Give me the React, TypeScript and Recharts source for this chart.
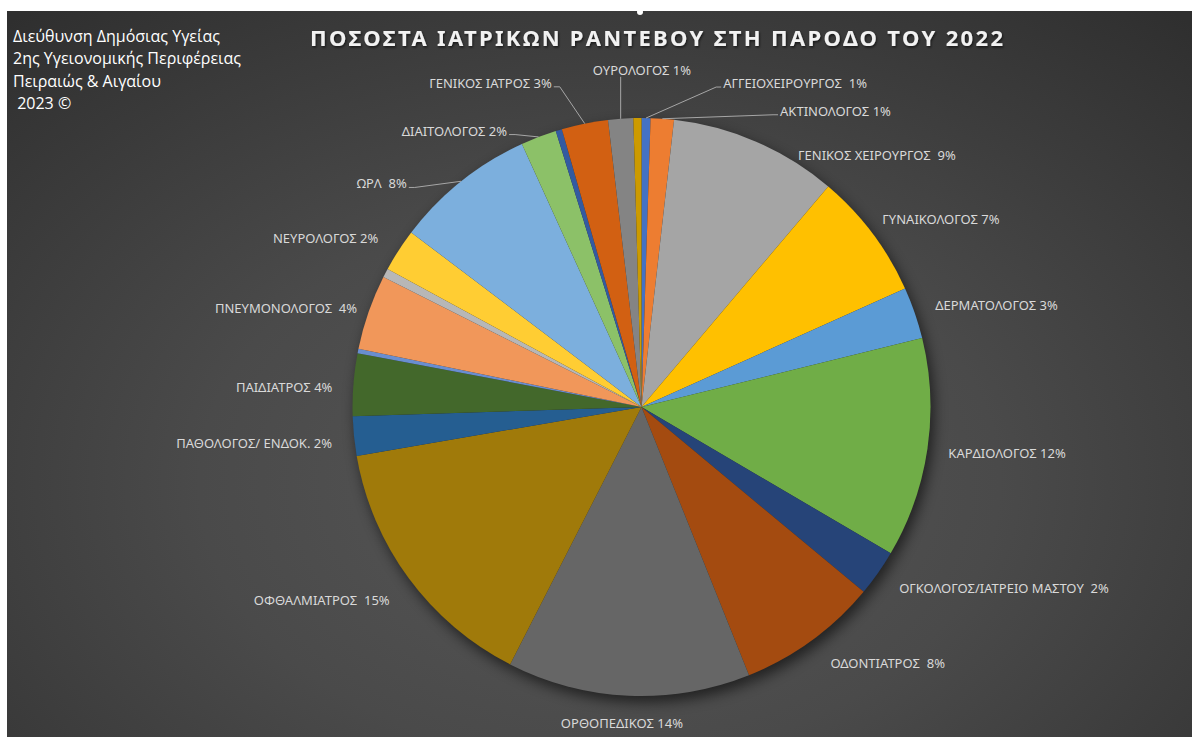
import { PieChart, Pie, Cell } from "recharts";

// specialties, in slice order (clockwise from 12 o'clock); "" = slice without a label
const specialties = [
  "ΑΓΓΕΙΟΧΕΙΡΟΥΡΓΟΣ ",
  "ΑΚΤΙΝΟΛΟΓΟΣ",
  "ΓΕΝΙΚΟΣ ΧΕΙΡΟΥΡΓΟΣ ",
  "ΓΥΝΑΙΚΟΛΟΓΟΣ",
  "ΔΕΡΜΑΤΟΛΟΓΟΣ",
  "ΚΑΡΔΙΟΛΟΓΟΣ",
  "ΟΓΚΟΛΟΓΟΣ/ΙΑΤΡΕΙΟ ΜΑΣΤΟΥ ",
  "ΟΔΟΝΤΙΑΤΡΟΣ ",
  "ΟΡΘΟΠΕΔΙΚΟΣ",
  "ΟΦΘΑΛΜΙΑΤΡΟΣ ",
  "ΠΑΘΟΛΟΓΟΣ/ ΕΝΔΟΚ.",
  "ΠΑΙΔΙΑΤΡΟΣ",
  "",
  "ΠΝΕΥΜΟΝΟΛΟΓΟΣ ",
  "",
  "ΝΕΥΡΟΛΟΓΟΣ",
  "ΩΡΛ ",
  "ΔΙΑΙΤΟΛΟΓΟΣ",
  "",
  "ΓΕΝΙΚΟΣ ΙΑΤΡΟΣ",
  "ΟΥΡΟΛΟΓΟΣ",
  "",
];

// share of appointments (%)
const shares = [
  0.5, 1.3, 9.4, 7.1, 2.9, 12.3, 2.6, 7.9, 13.6, 14.8, 2.2,
  3.5, 0.25, 4.2, 0.5, 2.4, 7.9, 2.0, 0.35, 2.6, 1.4, 0.45,
];

// rounded percentages printed in the labels
const shownPercent = [
  1, 1, 9, 7, 3, 12, 2, 8, 14, 15, 2,
  4, null, 4, null, 2, 8, 2, null, 3, 1, null,
];

const colors = [
  "#4472C4", "#ED7D31", "#A5A5A5", "#FFC000", "#5B9BD5", "#70AD47",
  "#264478", "#A44B10", "#666666", "#A07A0A", "#255E91", "#43682B",
  "#698ED0", "#F1975A", "#B7B7B7", "#FFCD33", "#7CAFDD", "#8CC168",
  "#335AA1", "#D26012", "#848484", "#CC9A00",
];

// manual label placement, offsets from the point just outside each slice
type Lay = { dx: number; dy: number; anchor: "start" | "end" | "middle"; leader?: boolean };
const labelLayout: (Lay | null)[] = [
  { dx: 77, dy: -25, anchor: "start", leader: true },
  { dx: 117, dy: 2, anchor: "start", leader: true },
  { dx: 38, dy: 22, anchor: "start" },
  { dx: 2, dy: -8, anchor: "start" },
  { dx: 11, dy: -5, anchor: "start" },
  { dx: 11, dy: 3, anchor: "start" },
  { dx: 13, dy: 9, anchor: "start" },
  { dx: 13, dy: 14, anchor: "start" },
  { dx: -6, dy: 17, anchor: "middle" },
  { dx: -11, dy: 16, anchor: "end" },
  { dx: -12, dy: 6, anchor: "end" },
  { dx: -11, dy: 3, anchor: "end" },
  null,
  { dx: -2, dy: -1, anchor: "end" },
  null,
  { dx: -12, dy: -7, anchor: "end" },
  { dx: -48, dy: 10, anchor: "end", leader: true },
  { dx: -28, dy: 3, anchor: "end", leader: true },
  null,
  { dx: -31, dy: -31, anchor: "end", leader: true },
  { dx: 22, dy: -39, anchor: "middle", leader: true },
  null,
];

const data = specialties.map((name, i) => ({ name, value: shares[i] }));

const RAD = Math.PI / 180;
const polar = (cx: number, cy: number, r: number, a: number) => [
  cx + r * Math.cos(-a * RAD),
  cy + r * Math.sin(-a * RAD),
];

const renderLabel = (p: any) => {
  const i = p.index;
  const lay = labelLayout[i];
  if (!lay || shownPercent[i] == null) return null;
  const [bx, by] = polar(p.cx, p.cy, p.outerRadius + 10, p.midAngle);
  const x = bx + lay.dx;
  const y = by + lay.dy;
  let leader = null;
  if (lay.leader) {
    const [ex, ey] = polar(p.cx, p.cy, p.outerRadius, p.midAngle);
    let pts = "";
    if (lay.anchor === "start") pts = `${ex},${ey} ${x - 7},${y + 4} ${x - 2},${y + 4}`;
    else if (lay.anchor === "end") pts = `${x + 2},${y + 4} ${x + 8},${y + 4} ${ex},${ey}`;
    else pts = `${ex},${ey} ${ex},${y + 7}`;
    leader = <polyline points={pts} fill="none" stroke="#a6a6a6" strokeWidth={1} />;
  }
  return (
    <g key={`lbl-${i}`}>
      {leader}
      <text
        x={x}
        y={y}
        textAnchor={lay.anchor}
        dominantBaseline="central"
        fill="#d9d9d9"
        fontSize={13}
        fontFamily="'Noto Sans', sans-serif"
        style={{ whiteSpace: "pre" }}
      >
        {`${specialties[i]} ${shownPercent[i]}%`}
      </text>
    </g>
  );
};

const headerLines = [
  "Διεύθυνση Δημόσιας Υγείας",
  "2ης Υγειονομικής Περιφέρειας",
  "Πειραιώς & Αιγαίου",
  " 2023 ©",
];

export default function App() {
  return (
    <div
      style={{
        position: "absolute",
        left: 0,
        top: 0,
        width: 1192,
        height: 737,
        background: "#ffffff",
        overflow: "hidden",
      }}
    >
      <style>{`.pie-shadow{filter:blur(5px);opacity:0.75;}`}</style>
      <div
        style={{
          position: "absolute",
          left: 7,
          top: 11,
          right: 0,
          bottom: 0,
          background:
            "radial-gradient(ellipse 75% 85% at 50% 65%, #575757 0%, #4a4a4a 45%, #2f2f2f 100%)",
        }}
      />
      <div style={{ position: "absolute", left: 0, top: 0 }}>
        <PieChart width={1192} height={737} margin={{ top: 0, right: 0, bottom: 0, left: 0 }}>
          {/* soft drop shadow under the pie */}
          <Pie
            className="pie-shadow"
            data={data}
            dataKey="value"
            cx={645}
            cy={413}
            outerRadius={289}
            startAngle={90}
            endAngle={-270}
            fill="#000000"
            stroke="#000000"
            strokeWidth={1}
            label={false}
            labelLine={false}
            isAnimationActive={false}
          />
          <Pie
            data={data}
            dataKey="value"
            nameKey="name"
            cx={641.5}
            cy={407}
            outerRadius={289}
            startAngle={90}
            endAngle={-270}
            stroke="none"
            label={renderLabel}
            labelLine={false}
            isAnimationActive={false}
          >
            {data.map((d, i) => (
              <Cell key={d.name + i} fill={colors[i]} />
            ))}
          </Pie>
        </PieChart>
      </div>
      <svg
        width={1192}
        height={737}
        style={{ position: "absolute", left: 0, top: 0, pointerEvents: "none" }}
      >
        <defs>
          <filter id="tshadow" x="-5%" y="-50%" width="110%" height="200%">
            <feDropShadow dx="1" dy="1.5" stdDeviation="1" floodColor="#000" floodOpacity="0.6" />
          </filter>
        </defs>
        <circle cx={640} cy={12} r={3} fill="#ffffff" />
        <text
          x={310}
          y={37}
          dominantBaseline="central"
          fill="#f2f2f2"
          fontSize={22}
          fontWeight={700}
          fontFamily="'Noto Sans', sans-serif"
          textLength={693}
          lengthAdjust="spacing"
          filter="url(#tshadow)"
        >
          ΠΟΣΟΣΤΑ ΙΑΤΡΙΚΩΝ ΡΑΝΤΕΒΟΥ ΣΤΗ ΠΑΡΟΔΟ ΤΟΥ 2022
        </text>
        {headerLines.map((t, i) => (
          <text
            key={i}
            x={13}
            y={36 + i * 22.3}
            dominantBaseline="central"
            fill="#ffffff"
            fontSize={16}
            fontFamily="'Open Sans', sans-serif"
            style={{ whiteSpace: "pre" }}
          >
            {t}
          </text>
        ))}
      </svg>
    </div>
  );
}
